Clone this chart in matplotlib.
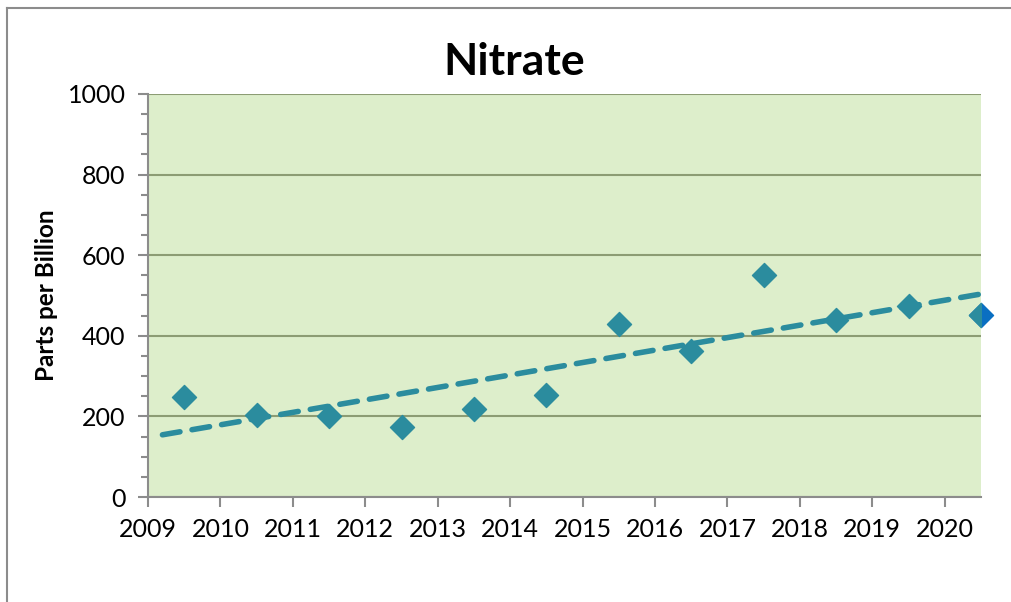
import numpy as np
import matplotlib.pyplot as plt
from matplotlib.ticker import MultipleLocator

years = [2009.5, 2010.5, 2011.5, 2012.5, 2013.5, 2014.5,
         2015.5, 2016.5, 2017.5, 2018.5, 2019.5, 2020.5]
nitrate = [248, 203, 201, 174, 218, 253, 429, 362, 551, 439, 474, 452]
year_ticks = list(range(2009, 2021))

plt.rcParams['font.family'] = ['Lato', 'DejaVu Sans']

teal = "#2b8c9e"
fig = plt.figure(figsize=(10.12, 6.02), dpi=100)
ax = fig.add_axes([0.1462, 0.1744, 0.8232, 0.6695])

# chart border (only left and top visible in the crop)
fig.add_artist(plt.Line2D([0.007, 0.007], [0, 0.987], color="#8c8c8c", lw=1.5))
fig.add_artist(plt.Line2D([0.007, 1.01], [0.987, 0.987], color="#8c8c8c", lw=1.5))

ax.set_facecolor("#ddeecb")
ax.set_xlim(2009, 2020.5)
ax.set_ylim(0, 1000)
ax.yaxis.set_major_locator(MultipleLocator(200))
ax.yaxis.set_minor_locator(MultipleLocator(50))
ax.set_xticks(year_ticks)
ax.grid(axis="y", which="major", color="#8c9c74", lw=1.5)
ax.set_axisbelow(True)
for s in ["top", "right"]:
    ax.spines[s].set_visible(False)
for s in ["left", "bottom"]:
    ax.spines[s].set_color("#8c8c8c")
    ax.spines[s].set_linewidth(1.5)
ax.tick_params(which="both", color="#8c8c8c", width=1.5, direction="out")
ax.tick_params(which="major", length=7, labelsize=18)
ax.tick_params(axis="y", which="major", pad=9)
ax.tick_params(axis="x", which="major", pad=8)
ax.tick_params(which="minor", length=5)

# linear trendline
coef = np.polyfit(np.array(years) - 2009.5, nitrate, 1)
tx = np.array([2009.2, 2020.5])
ax.plot(tx, np.polyval(coef, tx - 2009.5), ls=(0, (3.2, 2.2)), lw=4,
        color=teal, solid_capstyle="round", dash_capstyle="round", zorder=3)

ax.scatter(years[-1:], nitrate[-1:], marker="D", s=150, color="#0a6fc2",
           clip_on=False, zorder=3)
ax.scatter(years, nitrate, marker="D", s=150, color=teal, zorder=4)

ax.set_ylabel("Parts per Billion", fontsize=17.5, fontweight="bold",
              va="center")
ax.yaxis.set_label_coords(-0.122, 0.5)
fig.text(0.508, 0.876, "Nitrate", fontsize=32, fontweight="bold",
         ha="center", va="baseline")

fig.savefig("out.png", dpi=100)
